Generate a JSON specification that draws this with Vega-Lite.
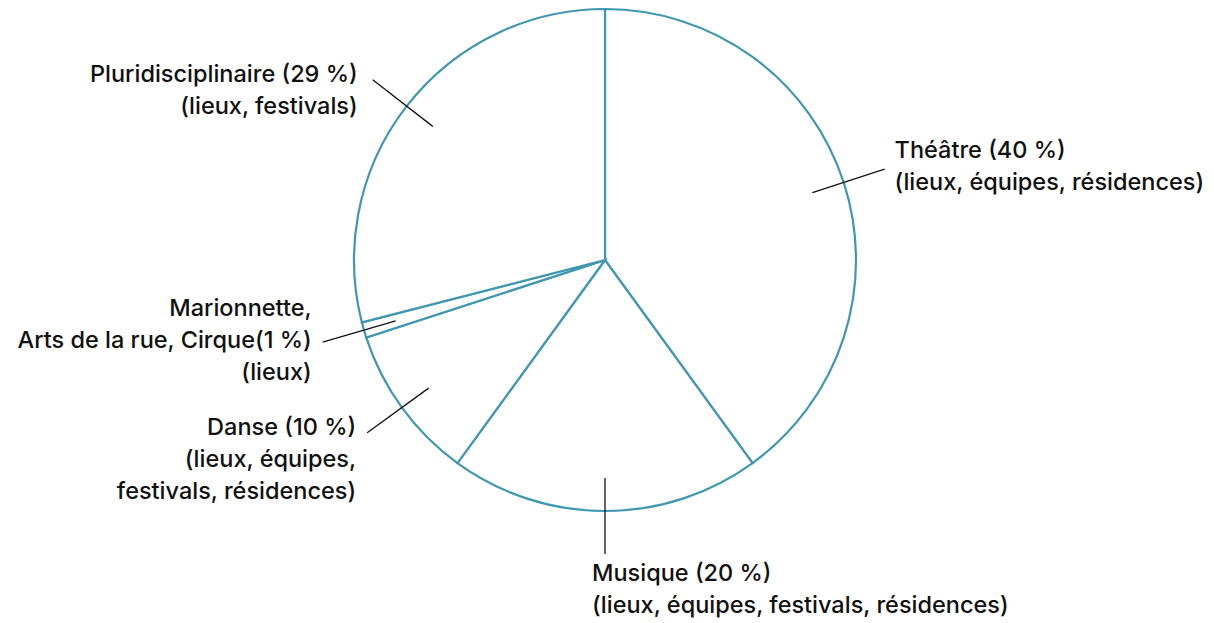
{
  "$schema": "https://vega.github.io/schema/vega-lite/v6.json",
  "width": 1210,
  "height": 520,
  "padding": 0,
  "background": "white",
  "view": {"stroke": null},
  "data": {
    "values": [
      {"rang": 1, "categorie": "Théâtre", "part": 40, "label": "Théâtre (40 %)\n(lieux, équipes, résidences)"},
      {"rang": 2, "categorie": "Musique", "part": 20, "label": "Musique (20 %)\n(lieux, équipes, festivals, résidences)"},
      {"rang": 3, "categorie": "Danse", "part": 10, "label": "Danse (10 %)\n(lieux, équipes,\nfestivals, résidences)"},
      {"rang": 4, "categorie": "Marionnette, Arts de la rue, Cirque", "part": 1, "label": "Marionnette,\nArts de la rue, Cirque(1 %)\n(lieux)"},
      {"rang": 5, "categorie": "Pluridisciplinaire", "part": 29, "label": "Pluridisciplinaire (29 %)\n(lieux, festivals)"}
    ]
  },
  "encoding": {
    "theta": {"field": "part", "type": "quantitative", "stack": true},
    "order": {"field": "rang", "type": "quantitative", "sort": "ascending"}
  },
  "layer": [
    {
      "mark": {"type": "arc", "outerRadius": 251, "fill": "white", "stroke": "#3f97b1", "strokeWidth": 2.2}
    },
    {
      "mark": {"type": "arc", "innerRadius": 218, "outerRadius": 294, "padAngle": 3, "fill": null, "stroke": "#111111", "strokeWidth": 1.3}
    },
    {
      "mark": {"type": "text", "radius": 294, "align": "left", "baseline": "alphabetic", "dx": 10, "dy": -11, "lineBreak": "\n", "lineHeight": 32, "font": "Inter", "fontSize": 23.5, "fontWeight": 500, "color": "#111111"},
      "encoding": {"text": {"condition": {"test": "datum.categorie === 'Théâtre'", "field": "label"}, "value": ""}}
    },
    {
      "mark": {"type": "text", "radius": 294, "align": "left", "baseline": "alphabetic", "dx": -13, "dy": 27, "lineBreak": "\n", "lineHeight": 32, "font": "Inter", "fontSize": 23.5, "fontWeight": 500, "color": "#111111"},
      "encoding": {"text": {"condition": {"test": "datum.categorie === 'Musique'", "field": "label"}, "value": ""}}
    },
    {
      "mark": {"type": "text", "radius": 294, "align": "right", "baseline": "alphabetic", "dx": -11, "dy": 2, "lineBreak": "\n", "lineHeight": 32, "font": "Inter", "fontSize": 23.5, "fontWeight": 500, "color": "#111111"},
      "encoding": {"text": {"condition": {"test": "datum.categorie === 'Danse'", "field": "label"}, "value": ""}}
    },
    {
      "mark": {"type": "text", "radius": 294, "align": "right", "baseline": "alphabetic", "dx": -11, "dy": -26, "lineBreak": "\n", "lineHeight": 32, "font": "Inter", "fontSize": 23.5, "fontWeight": 500, "color": "#111111"},
      "encoding": {"text": {"condition": {"test": "datum.categorie === 'Marionnette, Arts de la rue, Cirque'", "field": "label"}, "value": ""}}
    },
    {
      "mark": {"type": "text", "radius": 294, "align": "right", "baseline": "alphabetic", "dx": -15, "dy": 2, "lineBreak": "\n", "lineHeight": 32, "font": "Inter", "fontSize": 23.5, "fontWeight": 500, "color": "#111111"},
      "encoding": {"text": {"condition": {"test": "datum.categorie === 'Pluridisciplinaire'", "field": "label"}, "value": ""}}
    }
  ]
}
